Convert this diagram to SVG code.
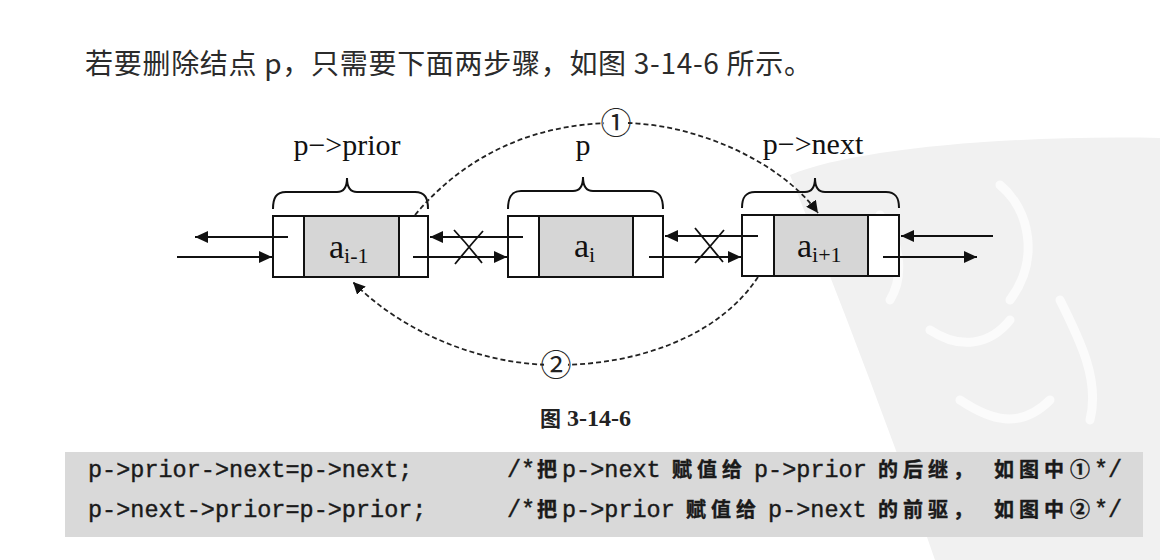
<svg xmlns="http://www.w3.org/2000/svg" width="1160" height="560" viewBox="0 0 1160 560">
<defs>
<marker id="ah" markerUnits="userSpaceOnUse" markerWidth="14" markerHeight="12" refX="13" refY="6" orient="auto">
<path d="M0,0 L13,6 L0,12 Z" fill="#111"/>
</marker>
<marker id="dh" markerUnits="userSpaceOnUse" markerWidth="13" markerHeight="12" refX="12" refY="6" orient="auto">
<path d="M0,0 L12,6 L0,12 Z" fill="#111"/>
</marker>
<style>
.cell{fill:#fff;stroke:#111;stroke-width:2}
.data{fill:#d6d6d6;stroke:#111;stroke-width:2}
.brace{fill:none;stroke:#111;stroke-width:2}
.lbl{font-family:"Liberation Serif",serif;font-size:30px;fill:#111;text-anchor:middle}
.val{font-family:"Liberation Serif",serif;font-size:34px;fill:#111}
.sub{font-size:22px}
.ar{stroke:#111;stroke-width:2;fill:none;marker-end:url(#ah)}
.x{stroke:#111;stroke-width:1.8;fill:none}
.dash{stroke:#222;stroke-width:1.8;fill:none;stroke-dasharray:5 3;marker-end:url(#dh)}
.num{font-family:"Noto Sans CJK SC",sans-serif;font-size:31px;fill:#222;text-anchor:middle}
.code{font-family:"Liberation Mono","Noto Sans CJK SC",monospace;font-size:23.5px;fill:#1a1a1a;stroke:#1a1a1a;stroke-width:0.4}
.cjk{font-family:"Noto Sans CJK SC",sans-serif;font-weight:bold;font-size:20px;fill:#1a1a1a}
</style>
</defs>
<rect width="1160" height="560" fill="#fff"/>
<g id="watermark">
<path d="M790,175 C850,150 1000,135 1160,138 L1160,560 L935,560 C890,430 840,300 790,175 Z" fill="#f1f1f1"/>
<path d="M880,215 C900,240 905,275 890,300 M1000,185 C1030,210 1040,260 1010,300 M930,330 C960,350 990,345 1010,320 M1060,300 C1080,340 1100,380 1090,420 M960,400 C990,420 1020,430 1050,400" stroke="#fbfbfb" stroke-width="9" fill="none" stroke-linecap="round"/>
</g>
<g id="title">
<text x="85" y="74" font-family="Noto Sans CJK SC, sans-serif" font-size="28" fill="#2b2b2b" textLength="727" lengthAdjust="spacing">若要删除结点 p，只需要下面两步骤，如图 3-14-6 所示。</text>
</g>
<g id="node-prior">
<rect class="cell" x="273" y="216" width="155" height="61"/>
<rect class="data" x="304" y="216" width="95" height="61"/>
<path class="brace" d="M273,209 C273,198 276,192 286,192 L337,192 C343,192 347,188 347,178 C347,188 351,192 357,192 L415,192 C425,192 428,198 428,209"/>
<text class="lbl" x="347" y="155">p−&gt;prior</text>
<text class="val" x="329" y="258">a<tspan class="sub" dy="5">i-1</tspan></text>
</g>
<g id="node-p">
<rect class="cell" x="508" y="216" width="155" height="61"/>
<rect class="data" x="539" y="216" width="94" height="61"/>
<path class="brace" d="M508,209 C508,198 511,191 521,191 L573,191 C579,191 583,187 583,177 C583,187 587,191 593,191 L650,191 C660,191 663,198 663,209"/>
<text class="lbl" x="583" y="155">p</text>
<text class="val" x="574" y="257">a<tspan class="sub" dy="5">i</tspan></text>
</g>
<g id="node-next">
<rect class="cell" x="742" y="215" width="157" height="61"/>
<rect class="data" x="774" y="215" width="94" height="61"/>
<path class="brace" d="M742,208 C742,198 745,192 755,192 L805,192 C811,192 815,188 815,178 C815,188 819,192 825,192 L886,192 C896,192 899,198 899,208"/>
<text class="lbl" x="813" y="154">p−&gt;next</text>
<text class="val" x="797" y="257">a<tspan class="sub" dy="5">i+1</tspan></text>
</g>
<g id="connectors">
<line class="ar" x1="288" y1="237" x2="195" y2="237"/>
<line class="ar" x1="177" y1="257" x2="272" y2="257"/>
<line class="ar" x1="523" y1="237" x2="430" y2="237"/>
<line class="ar" x1="413" y1="257" x2="507" y2="257"/>
<line class="ar" x1="758" y1="236" x2="665" y2="236"/>
<line class="ar" x1="649" y1="257" x2="741" y2="257"/>
<line class="ar" x1="993" y1="236" x2="901" y2="236"/>
<line class="ar" x1="883" y1="257" x2="977" y2="257"/>
<path class="x" d="M454,230 Q468,245 482,263 M483,231 Q468,248 455,264"/>
<path class="x" d="M695,228 Q709,245 723,262 M724,230 Q709,248 695,263"/>
<path class="dash" d="M415,215 C465,155 535,123 616,123 C690,121 780,160 818,213"/>
<path class="dash" d="M758,277 C720,335 640,365 556,365 C478,365 400,330 353,282"/>
<circle cx="616" cy="123" r="12" fill="#fff"/>
<text class="num" x="616" y="134">①</text>
<circle cx="556" cy="365" r="12" fill="#fff"/>
<text class="num" x="556" y="376">②</text>
</g>
<g id="caption">
<text x="540" y="426" font-family="Liberation Serif, Noto Sans CJK SC, serif" font-weight="bold" font-size="24" fill="#222"><tspan font-family="Noto Sans CJK SC, sans-serif" font-size="21">图</tspan> 3-14-6</text>
</g>
<g id="code">
<rect x="65" y="452" width="1078" height="85" fill="#d9d9d9"/>
<text class="code" x="88" y="477">p-&gt;prior-&gt;next=p-&gt;next;</text>
<text class="code" x="88" y="517">p-&gt;next-&gt;prior=p-&gt;prior;</text>
<text class="code" y="477"><tspan x="507">/*</tspan><tspan class="cjk" x="537">把</tspan><tspan x="562">p-&gt;next</tspan><tspan class="cjk" x="672" letter-spacing="5">赋值给</tspan><tspan x="754">p-&gt;prior</tspan><tspan class="cjk" x="878" letter-spacing="5">的后继，</tspan><tspan class="cjk" x="994" letter-spacing="5">如图中</tspan><tspan class="cjk" x="1070">①</tspan><tspan x="1094">*/</tspan></text>
<text class="code" y="517"><tspan x="507">/*</tspan><tspan class="cjk" x="537">把</tspan><tspan x="562">p-&gt;prior</tspan><tspan class="cjk" x="686" letter-spacing="5">赋值给</tspan><tspan x="768">p-&gt;next</tspan><tspan class="cjk" x="878" letter-spacing="5">的前驱，</tspan><tspan class="cjk" x="994" letter-spacing="5">如图中</tspan><tspan class="cjk" x="1070">②</tspan><tspan x="1094">*/</tspan></text>
</g>
</svg>
